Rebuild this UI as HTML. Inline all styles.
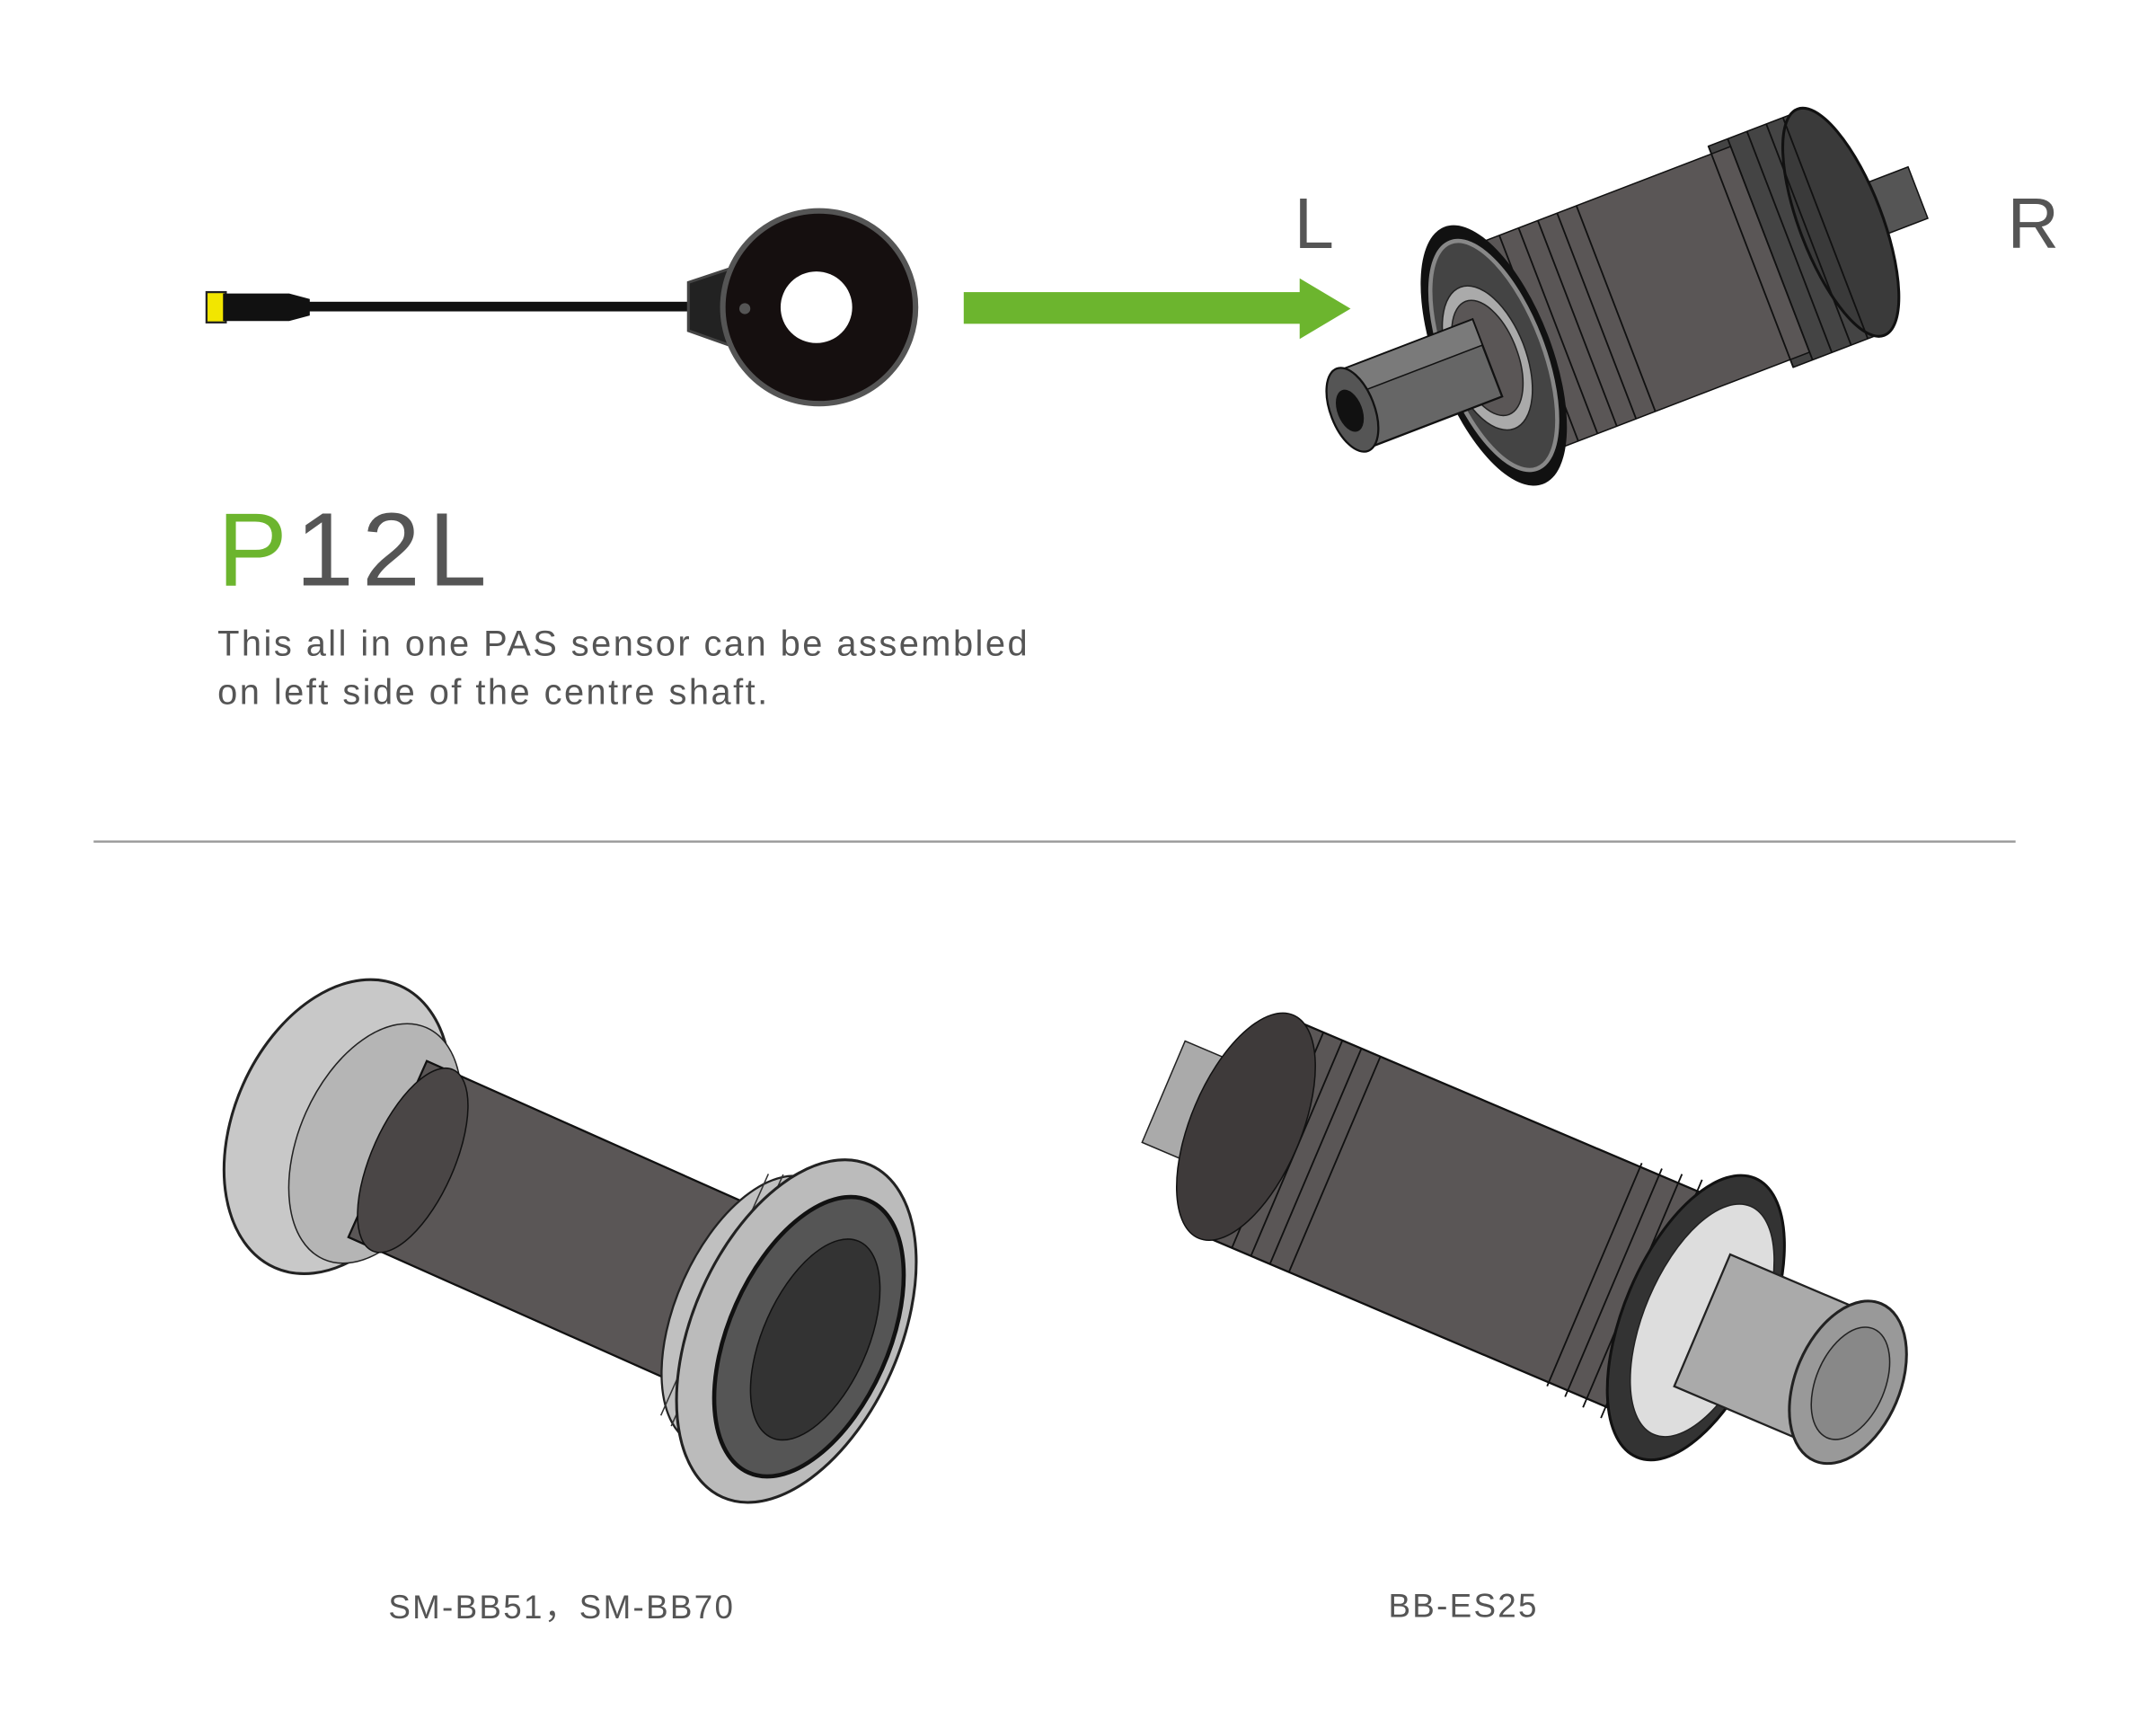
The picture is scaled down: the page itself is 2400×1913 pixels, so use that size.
<!DOCTYPE html>
<html><head><meta charset="utf-8"><style>
html,body{margin:0;padding:0;background:#fff;}
svg{display:block;}
text{font-family:"Liberation Sans",sans-serif;}
</style></head><body>
<svg width="2400" height="1913" viewBox="0 0 1566 1248" xmlns="http://www.w3.org/2000/svg">
<rect width="1566" height="1248" fill="#fff"/>
<!-- sensor -->
<rect x="150" y="212" width="14" height="22" fill="#f2e600" stroke="#222" stroke-width="1.5"/>
<path d="M162 213 L210 213 L225 217 L225 229 L210 233 L162 233 Z" fill="#111"/>
<rect x="224" y="219" width="280" height="7" fill="#111"/>
<path d="M500 205 L545 190 L545 256 L500 240 Z" fill="#222" stroke="#444" stroke-width="2"/>
<circle cx="595" cy="223" r="70" fill="#150f0f" stroke="#555" stroke-width="4"/>
<circle cx="593" cy="223" r="26" fill="#fff"/>
<circle cx="541" cy="224" r="4" fill="#555"/>
<!-- arrow -->
<rect x="700" y="212" width="248" height="23" fill="#6cb52e"/>
<polygon points="944,202 981,224 944,246" fill="#6cb52e"/>
<text x="940" y="180" font-size="52" fill="#555">L</text>
<text x="1458" y="180" font-size="52" fill="#555">R</text>
<!-- top BB -->
<g transform="translate(1085,258) rotate(-21)">
 <rect x="200" y="-86" width="70" height="172" fill="#444" stroke="#111"/>
 <rect x="290" y="-20" width="40" height="40" fill="#555" stroke="#111"/>
 <ellipse cx="270" cy="0" rx="30" ry="88" fill="#3a3a3a" stroke="#111" stroke-width="2"/>
 <rect x="0" y="-80" width="215" height="160" fill="#5a5656" stroke="#111"/>
 <g stroke="#111" fill="none" stroke-width="1.2">
  <path d="M20 -80 v160 M35 -80 v160 M50 -80 v160 M65 -80 v160 M80 -80 v160 M95 -80 v160"/>
  <path d="M200 -86 v172 M215 -86 v172 M230 -86 v172 M245 -86 v172 M258 -86 v172"/>
 </g>
 <ellipse cx="0" cy="0" rx="42" ry="100" fill="#111"/>
 <ellipse cx="0" cy="0" rx="36" ry="88" fill="#444" stroke="#888" stroke-width="3"/>
 <ellipse cx="-5" cy="0" rx="28" ry="55" fill="#aaa" stroke="#222"/>
 <ellipse cx="-5" cy="0" rx="22" ry="44" fill="#5a5656" stroke="#222"/>
 <rect x="-110" y="-30" width="105" height="60" fill="#666" stroke="#111" stroke-width="1.5"/>
 <rect x="-110" y="-30" width="105" height="20" fill="#7a7a7a" stroke="#111"/>
 <ellipse cx="-110" cy="0" rx="16" ry="32" fill="#555" stroke="#111" stroke-width="1.5"/>
 <ellipse cx="-112" cy="0" rx="9" ry="16" fill="#111"/>
</g>
<!-- title -->
<text x="158" y="425" font-size="76" fill="#6cb52e" letter-spacing="6">P<tspan fill="#555">12L</tspan></text>
<text x="158" y="476" font-size="26" fill="#555" letter-spacing="1.6">This all in one PAS sensor can be assembled</text>
<text x="158" y="511" font-size="26" fill="#555" letter-spacing="1.6">on left side of the centre shaft.</text>
<line x1="68" y1="611" x2="1464" y2="611" stroke="#999" stroke-width="1.5"/>
<!-- bottom left BB -->
<g transform="translate(245,818) rotate(24)">
 <ellipse cx="0" cy="0" rx="75" ry="112" fill="#c8c8c8" stroke="#222" stroke-width="2"/>
 <ellipse cx="30" cy="0" rx="55" ry="92" fill="#b5b5b5" stroke="#222"/>
 <rect x="40" y="-70" width="290" height="140" fill="#5a5656" stroke="#111" stroke-width="1.5"/>
 <ellipse cx="60" cy="0" rx="30" ry="72" fill="#4a4646" stroke="#111"/>
 <ellipse cx="330" cy="0" rx="55" ry="105" fill="#c0c0c0" stroke="#222" stroke-width="1.5"/>
 <g stroke="#333" fill="none"><path d="M300 -96 v192 M310 -100 v200 M320 -103 v206 M330 -105 v210"/></g>
 <ellipse cx="365" cy="0" rx="75" ry="132" fill="#bbb" stroke="#222" stroke-width="2"/>
 <ellipse cx="375" cy="0" rx="58" ry="108" fill="#555" stroke="#111" stroke-width="3"/>
 <ellipse cx="380" cy="0" rx="38" ry="78" fill="#333" stroke="#111"/>
</g>
<!-- bottom right BB -->
<g transform="translate(905,818) rotate(23)">
 <rect x="-65" y="-40" width="60" height="80" fill="#aaa" stroke="#222"/>
 <rect x="0" y="-85" width="350" height="170" fill="#5a5656" stroke="#111" stroke-width="1.5"/>
 <g stroke="#111" fill="none" stroke-width="1.2"><path d="M10 -85 v170 M25 -85 v170 M40 -85 v170 M55 -85 v170 M70 -85 v170 M275 -88 v176 M290 -90 v180 M305 -92 v184 M320 -94 v188 M335 -96 v192"/></g>
 <ellipse cx="0" cy="0" rx="40" ry="88" fill="#3e3a3a" stroke="#111"/>
 <ellipse cx="355" cy="0" rx="52" ry="110" fill="#333" stroke="#111" stroke-width="2"/>
 <ellipse cx="360" cy="0" rx="42" ry="90" fill="#ddd" stroke="#222"/>
 <rect x="360" y="-52" width="115" height="104" fill="#aaa" stroke="#222" stroke-width="1.5"/>
 <ellipse cx="475" cy="0" rx="38" ry="62" fill="#999" stroke="#222" stroke-width="2"/>
 <ellipse cx="477" cy="0" rx="25" ry="43" fill="#888" stroke="#222"/>
</g>
<text x="408" y="1175" font-size="24" fill="#555" text-anchor="middle" letter-spacing="1.5">SM-BB51，SM-BB70</text>
<text x="1063" y="1174" font-size="24" fill="#555" text-anchor="middle" letter-spacing="1.5">BB-ES25</text>
</svg>
</body></html>
